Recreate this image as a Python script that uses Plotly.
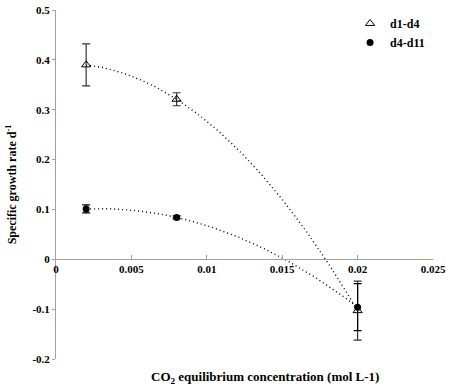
import numpy as np
import plotly.graph_objects as go

# ---- data ----
co2 = [0.002, 0.008, 0.020]
d1_d4 = [0.390, 0.321, -0.103]
d1_d4_err = [0.042, 0.013, 0.059]
d4_d11 = [0.101, 0.084, -0.096]
d4_d11_err = [0.008, 0.003, 0.047]

x_tickvals = [0, 0.005, 0.01, 0.015, 0.02, 0.025]
x_ticktext = ["0", "0.005", "0.01", "0.015", "0.02", "0.025"]
y_tickvals = [-0.2, -0.1, 0, 0.1, 0.2, 0.3, 0.4, 0.5]
y_ticktext = ["-0.2", "-0.1", "0", "0.1", "0.2", "0.3", "0.4", "0.5"]

FONT = "Liberation Serif"
AX = "#a0a0a0"

fig = go.Figure()

# polynomial (order 2) trendlines fitted to the data
xs = np.linspace(min(co2), max(co2), 120)
for ys in (d1_d4, d4_d11):
    coef = np.polyfit(co2, ys, 2)
    fig.add_trace(go.Scatter(x=xs, y=np.polyval(coef, xs), mode="lines",
                             line=dict(color="black", width=1.4, dash="1px,3px"),
                             showlegend=False, hoverinfo="skip"))

fig.add_trace(go.Scatter(
    x=co2, y=d1_d4, mode="markers", name="d1-d4",
    marker=dict(symbol="triangle-up-open", size=8, color="black", line=dict(width=1)),
    error_y=dict(type="data", array=d1_d4_err, color="#333333", thickness=1.2, width=4)))
fig.add_trace(go.Scatter(
    x=co2, y=d4_d11, mode="markers", name="d4-d11",
    marker=dict(symbol="circle", size=7, color="black"),
    error_y=dict(type="data", array=d4_d11_err, color="black", thickness=1.2, width=4)))

fig.update_layout(
    width=452, height=387,
    margin=dict(l=56, r=19, t=10, b=28, autoexpand=False),
    plot_bgcolor="white", paper_bgcolor="white",
    font=dict(family=FONT, color="black"),
    showlegend=True,
    legend=dict(x=0.78, y=1.003, xanchor="left", yanchor="top",
                font=dict(family=FONT, size=12, color="black", weight="bold"),
                bgcolor="rgba(0,0,0,0)", tracegroupgap=0),
    xaxis=dict(range=[0, 0.025], tickvals=x_tickvals, ticktext=x_ticktext,
               showgrid=False, zeroline=False, showline=True, linecolor=AX, linewidth=1,
               ticks="inside", ticklen=4, tickcolor=AX, automargin=False,
               anchor="free", position=0.2857,
               tickfont=dict(family=FONT, size=11, color="black", weight="bold")),
    yaxis=dict(range=[-0.2, 0.5], tickvals=y_tickvals, ticktext=y_ticktext,
               showgrid=False, zeroline=False, showline=True, linecolor=AX, linewidth=1,
               ticks="outside", ticklen=3, tickcolor=AX, automargin=False,
               tickfont=dict(family=FONT, size=11, color="black", weight="bold"),
               title=dict(text="Specific growth rate d<sup>-1</sup>", standoff=13,
                          font=dict(family=FONT, size=12, color="black", weight="bold"))),
    annotations=[dict(text="CO<sub>2</sub> equilibrium concentration (mol L-1)",
                      xref="paper", yref="paper", x=0.555, y=0, yshift=-18,
                      xanchor="center", yanchor="middle", showarrow=False,
                      font=dict(family=FONT, size=13, color="black", weight="bold"))],
)

fig.write_html("out.html", config={"displayModeBar": False},
               post_script="document.body.style.margin='0';document.body.style.overflow='hidden';")
